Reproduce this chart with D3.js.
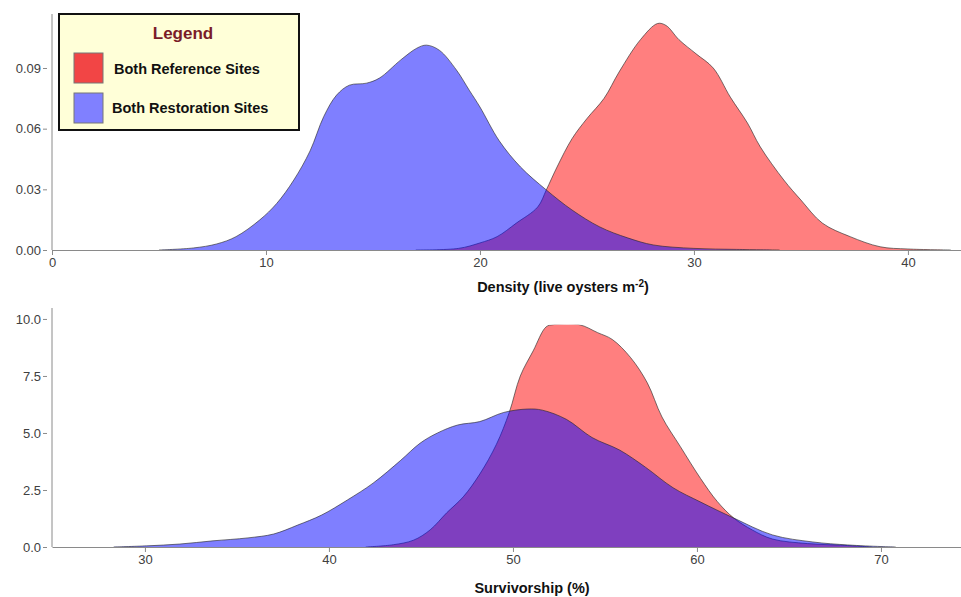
<!DOCTYPE html>
<html>
<head>
<meta charset="utf-8">
<script src="https://cdn.jsdelivr.net/npm/d3@7"></script>
<style>
  body { margin: 0; background: #fff; }
  svg { font-family: "Liberation Sans", Arial, sans-serif; }
  .axis path, .axis line { stroke: #8a8a8a; }
  .axis text { fill: #404040; font-size: 13px; }
</style>
</head>
<body>
<div id="main_plot"></div>
<script>
// dimensions of the picture
var width = 961,
    height = 597;

// series names and colours for the legend
var group_names = ["Both Reference Sites", "Both Restoration Sites"];
var group_colors = ["#ff0000", "#0000ff"];
var legend_colors = ["#f24545", "#8080ff"];

// top panel: density (live oysters m-2)
var ref_density_x = [17.0, 19.0, 20.0, 20.8, 21.7, 22.7, 23.1, 23.6, 24.3, 25.0, 25.8, 26.5, 27.5, 28.3, 28.7, 29.3, 30.1, 30.9, 31.7, 32.5, 33.1, 34.2, 35.0, 36.0, 37.3, 38.7, 40.0, 42.0];
var ref_density_y = [0, 0.0008, 0.0035, 0.0066, 0.0133, 0.0213, 0.0297, 0.041, 0.055, 0.065, 0.075, 0.088, 0.104, 0.112, 0.111, 0.104, 0.097, 0.090, 0.0756, 0.0628, 0.051, 0.0346, 0.0247, 0.0133, 0.0066, 0.0016, 0.0005, 0];
var res_density_x = [5.0, 6.6, 7.7, 8.6, 9.7, 10.5, 11.3, 12.06, 12.7, 13.3, 13.9, 14.7, 15.3, 16.3, 17.05, 17.5, 18.1, 18.9, 19.5, 20.0, 20.9, 21.9, 23.1, 24.3, 25.6, 26.9, 28.1, 30.0, 32.0, 34.0];
var res_density_y = [0, 0.001, 0.003, 0.0066, 0.0148, 0.023, 0.0346, 0.049, 0.066, 0.0766, 0.0815, 0.0825, 0.085, 0.094, 0.0998, 0.1013, 0.0988, 0.089, 0.079, 0.0707, 0.054, 0.041, 0.0297, 0.0198, 0.0114, 0.006, 0.0025, 0.0008, 0.0003, 0];

// bottom panel: survivorship (%), plotted range stops at 9.75
var ref_surv_x = [42.0, 43.5, 44.6, 45.5, 46.4, 47.3, 48.2, 49.1, 49.8, 50.4, 51.1, 51.8, 52.2, 53.6, 54.6, 55.4, 56.4, 57.3, 58.1, 59.1, 60.2, 61.1, 62.0, 63.0, 64.1, 66.0, 67.8, 69.5];
var ref_surv_y = [0, 0.1, 0.3, 0.75, 1.5, 2.2, 3.2, 4.5, 5.9, 7.5, 8.6, 9.65, 9.75, 9.75, 9.4, 9.1, 8.3, 7.2, 5.7, 4.4, 3.0, 2.0, 1.27, 0.75, 0.35, 0.15, 0.08, 0];
var res_surv_x = [28.3, 30.1, 31.9, 33.7, 35.6, 37.0, 38.3, 39.6, 41.0, 42.4, 43.9, 44.95, 45.9, 47.0, 48.2, 49.5, 50.8, 51.6, 52.9, 54.3, 55.8, 57.2, 58.7, 60.2, 62.0, 64.1, 66.3, 68.2, 70.0, 70.8];
var res_surv_y = [0, 0.05, 0.13, 0.27, 0.4, 0.57, 0.96, 1.4, 2.06, 2.8, 3.8, 4.55, 5.0, 5.35, 5.5, 5.9, 6.05, 6.0, 5.6, 4.8, 4.25, 3.5, 2.6, 1.97, 1.27, 0.53, 0.22, 0.09, 0.02, 0];

// tick values
var density_xticks = [0, 10, 20, 30, 40];
var density_yticks = [0, 0.03, 0.06, 0.09];
var surv_xticks = [30, 40, 50, 60, 70];
var surv_yticks = [0, 2.5, 5, 7.5, 10];

// append the svg object
var svg = d3.select("div#main_plot")
  .append("svg")
    .attr("width", width)
    .attr("height", height);

// zip two arrays into [x, y] pairs
function pairs(xs, ys) {
  return xs.map(function(x, i) { return [x, ys[i]]; });
}

// draw one panel with two density curves
function drawPanel(opt) {
  var x = d3.scaleLinear().domain(opt.xdomain).range([52, 961]);
  var y = d3.scaleLinear().domain(opt.ydomain).range([opt.bottom, opt.top]);

  // clip the curves at the top of the shown range
  svg.append("clipPath")
      .attr("id", opt.id)
    .append("rect")
      .attr("x", 52)
      .attr("y", y(opt.ymaxShown))
      .attr("width", 961 - 52)
      .attr("height", opt.bottom - y(opt.ymaxShown) + 2);

  var area = d3.area()
    .curve(d3.curveCatmullRom.alpha(0.5))
    .x(function(d) { return x(d[0]); })
    .y0(y(0))
    .y1(function(d) { return Math.min(y(0), y(d[1])); });
  var line = d3.line()
    .curve(d3.curveCatmullRom.alpha(0.5))
    .x(function(d) { return x(d[0]); })
    .y(function(d) { return y(d[1]); });

  // red first, blue on top
  opt.series.forEach(function(s, i) {
    var g = svg.append("g").attr("clip-path", "url(#" + opt.id + ")");
    g.append("path")
      .datum(s)
      .attr("fill", group_colors[i])
      .attr("fill-opacity", 0.5)
      .attr("d", area);
    g.append("path")
      .datum(s)
      .attr("fill", "none")
      .attr("stroke", "#2a2a2a")
      .attr("stroke-opacity", 0.7)
      .attr("stroke-width", 0.9)
      .attr("d", line);
  });

  // add the X axis
  svg.append("g")
    .attr("class", "axis")
    .attr("transform", "translate(0," + opt.bottom + ")")
    .call(d3.axisBottom(x)
      .tickValues(opt.xticks)
      .tickSize(5)
      .tickSizeOuter(0)
      .tickPadding(3)
      .tickFormat(d3.format("d")));

  // add the Y axis
  var ya = svg.append("g")
    .attr("class", "axis")
    .attr("transform", "translate(52,0)")
    .call(d3.axisLeft(y)
      .tickValues(opt.yticks)
      .tickSizeOuter(0)
      .tickFormat(d3.format(opt.yformat)));
  ya.selectAll(".tick line").attr("x1", -5).attr("x2", -9);
  ya.selectAll(".tick text").attr("x", -11);
  ya.select(".domain").attr("d", "M0," + opt.top + "V" + opt.bottom);

  // axis title
  svg.append("text")
    .attr("x", opt.titleX)
    .attr("y", opt.titleY)
    .attr("text-anchor", "middle")
    .attr("font-size", 14.5)
    .attr("font-weight", "bold")
    .attr("fill", "#111")
    .call(opt.title);
}

drawPanel({
  id: "clip_density",
  xdomain: [0, 42.48], ydomain: [0, 0.1167], ymaxShown: 0.1167, top: 14, bottom: 250,
  xticks: density_xticks, yticks: density_yticks, yformat: ".2f",
  series: [pairs(ref_density_x, ref_density_y), pairs(res_density_x, res_density_y)],
  titleX: 563, titleY: 292,
  title: function(t) {
    t.append("tspan").text("Density (live oysters m");
    t.append("tspan").attr("dy", -5).attr("font-size", 10).text("-2");
    t.append("tspan").attr("dy", 5).text(")");
  }
});

drawPanel({
  id: "clip_surv",
  xdomain: [24.95, 74.35], ydomain: [0, 10.48], ymaxShown: 9.75, top: 308, bottom: 547,
  xticks: surv_xticks, yticks: surv_yticks, yformat: ".1f",
  series: [pairs(ref_surv_x, ref_surv_y), pairs(res_surv_x, res_surv_y)],
  titleX: 532, titleY: 593,
  title: function(t) { t.text("Survivorship (%)"); }
});

// legend box
var legend = svg.append("g").attr("transform", "translate(59,14)");
legend.append("rect")
  .attr("width", 240)
  .attr("height", 116)
  .attr("fill", "#ffffd8")
  .attr("stroke", "#111")
  .attr("stroke-width", 2);
legend.append("text")
  .attr("x", 124)
  .attr("y", 25)
  .attr("text-anchor", "middle")
  .attr("font-size", 17)
  .attr("font-weight", "bold")
  .attr("fill", "#7a1c28")
  .text("Legend");
group_names.forEach(function(name, i) {
  legend.append("rect")
    .attr("x", 15)
    .attr("y", 39 + i * 40)
    .attr("width", 29)
    .attr("height", 30)
    .attr("fill", legend_colors[i])
    .attr("stroke", "#777")
    .attr("stroke-width", 1);
  legend.append("text")
    .attr("x", 55 - i * 2)
    .attr("y", 60 + i * 39)
    .attr("font-size", 14.5)
    .attr("font-weight", "bold")
    .attr("fill", "#111")
    .text(name);
});
</script>
</body>
</html>
